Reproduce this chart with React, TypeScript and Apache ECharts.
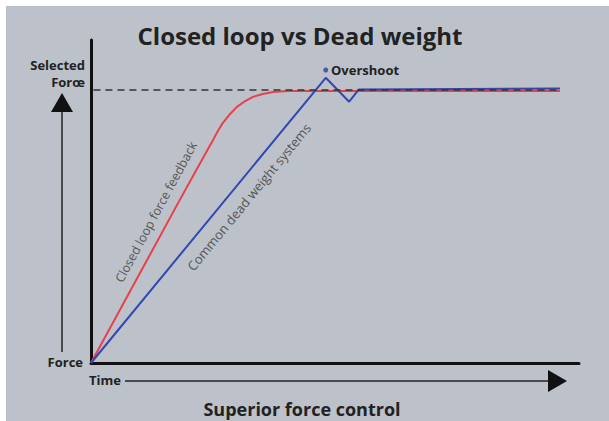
import React, { useEffect, useRef } from "react";
import * as echarts from "echarts";

const title = "Closed loop vs Dead weight";
const subtitle = "Superior force control";
const closedLoopX = [0, 18.2, 24.2, 25.0, 26.0, 27.0, 28.5, 29.9, 31.6, 33.2, 35.2, 37.3, 40.2, 96.1];
const closedLoopY = [0, 50.5, 66.9, 69.0, 71.8, 74.3, 77.1, 79.3, 81.1, 82.4, 83.3, 83.9, 84.2, 84.2];
const deadWeightX = [0, 48.1, 52.9, 54.9, 96.1];
const deadWeightY = [0, 88.3, 80.9, 84.7, 85.0];
const selectedForceX = [0.5, 96.1];
const selectedForceY = [84.5, 84.5];
const overshootPoint = [48.1, 90.7];

const zip = (xs: number[], ys: number[]) => xs.map((x, i) => [x, ys[i]]);

export default function App() {
  const ref = useRef<HTMLDivElement>(null);
  useEffect(() => {
    const chart = echarts.init(ref.current!, null, { renderer: "svg" });
    const font = "'Open Sans', 'DejaVu Sans', sans-serif";
    const dark = "#222222";
    chart.setOption({
      animation: false,
      backgroundColor: "#ffffff",
      grid: { left: 91, right: 30, top: 40, bottom: 58 },
      xAxis: {
        type: "value",
        min: 0,
        max: 100,
        axisLine: { show: true, onZero: false, lineStyle: { color: "#111", width: 3 } },
        axisTick: { show: false },
        axisLabel: { show: false },
        splitLine: { show: false },
      },
      yAxis: {
        type: "value",
        min: 0,
        max: 100,
        axisLine: { show: true, onZero: false, lineStyle: { color: "#111", width: 3 } },
        axisTick: { show: false },
        axisLabel: { show: false },
        splitLine: { show: false },
      },
      graphic: [
        { type: "rect", z: -10, silent: true, shape: { x: 6, y: 6, width: 603, height: 415 }, style: { fill: "#bdc1c9" } },
        { type: "text", x: 300, y: 35, style: { text: title, font: `bold 24px ${font}`, fill: dark, textAlign: "center", textVerticalAlign: "middle" } },
        { type: "text", x: 302, y: 409, style: { text: subtitle, font: `bold 18px ${font}`, fill: dark, textAlign: "center", textVerticalAlign: "middle" } },
        { type: "text", x: 85, y: 65, style: { text: "Selected", font: `bold 13px ${font}`, fill: dark, textAlign: "right", textVerticalAlign: "middle" } },
        { type: "text", x: 85, y: 82, style: { text: "Forœ", font: `bold 13px ${font}`, fill: dark, textAlign: "right", textVerticalAlign: "middle" } },
        { type: "text", x: 83, y: 362, style: { text: "Force", font: `bold 13px ${font}`, fill: dark, textAlign: "right", textVerticalAlign: "middle" } },
        { type: "text", x: 89, y: 380, style: { text: "Time", font: `bold 13px ${font}`, fill: dark, textAlign: "left", textVerticalAlign: "middle" } },
        { type: "line", shape: { x1: 62, y1: 110, x2: 62, y2: 352 }, style: { stroke: "#222", lineWidth: 1.5 } },
        { type: "polygon", shape: { points: [[51, 112], [73, 112], [62, 93]] }, style: { fill: "#111" } },
        { type: "line", shape: { x1: 125, y1: 381, x2: 552, y2: 381 }, style: { stroke: "#222", lineWidth: 1.5 } },
        { type: "polygon", shape: { points: [[548, 370], [548, 392], [567, 381]] }, style: { fill: "#111" } },
        { type: "text", x: 331, y: 70, style: { text: "Overshoot", font: `bold 13px ${font}`, fill: dark, textAlign: "left", textVerticalAlign: "middle" } },
        { type: "text", x: 156, y: 212, rotation: (61.6 * Math.PI) / 180, style: { text: "Closed loop force feedback", font: `12.5px ${font}`, fill: "#555", textAlign: "center", textVerticalAlign: "middle" } },
        { type: "text", x: 249, y: 197, rotation: (50.5 * Math.PI) / 180, style: { text: "Common dead weight systems", font: `13px ${font}`, fill: "#555", textAlign: "center", textVerticalAlign: "middle" } },
      ],
      series: [
        {
          type: "line",
          data: zip(closedLoopX, closedLoopY),
          showSymbol: false,
          lineStyle: { color: "#e8404a", width: 2, join: "round" },
          z: 3,
        },
        {
          type: "line",
          data: zip(deadWeightX, deadWeightY),
          showSymbol: false,
          lineStyle: { color: "#3048b4", width: 2 },
          z: 4,
        },
        {
          type: "line",
          data: zip(selectedForceX, selectedForceY),
          showSymbol: false,
          lineStyle: { color: "#333", width: 1.4, type: [7, 5] },
          z: 5,
        },
        {
          type: "scatter",
          data: [overshootPoint],
          symbolSize: 5,
          itemStyle: { color: "#2a3fa8" },
          z: 6,
        },
      ],
    });
    return () => chart.dispose();
  }, []);
  return <div ref={ref} style={{ position: "fixed", left: 0, top: 0, width: 609, height: 421 }} />;
}
